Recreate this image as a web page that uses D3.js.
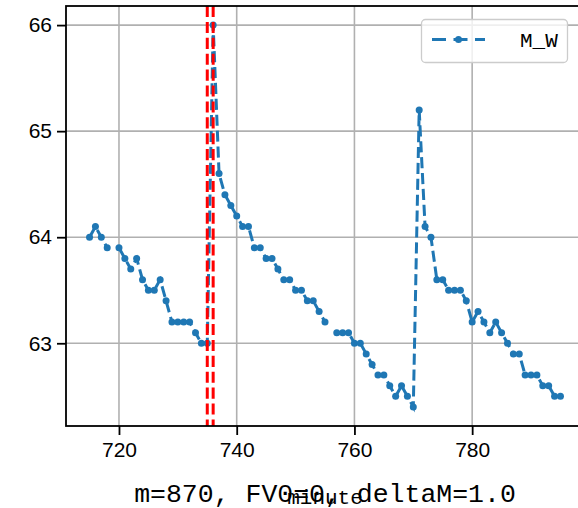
<!DOCTYPE html>
<html>
<head>
<meta charset="utf-8">
<script src="https://cdn.jsdelivr.net/npm/d3@7"></script>
<style>
  html, body { margin: 0; padding: 0; background: #fff; }
  svg { display: block; }
</style>
</head>
<body>
<svg id="chart" width="578" height="508"></svg>
<script>
// ---- data ----
const minutes = d3.range(715, 796);
const mW = [
  64.0, 64.1, 64.0, 63.9, null, 63.9, 63.8, 63.7, 63.8, 63.6,   // 715-724
  63.5, 63.5, 63.6, 63.4, 63.2, 63.2, 63.2, 63.2, 63.1, 63.0,   // 725-734
  63.0, 66.0, 64.6, 64.4, 64.3, 64.2, 64.1, 64.1, 63.9, 63.9,   // 735-744
  63.8, 63.8, 63.7, 63.6, 63.6, 63.5, 63.5, 63.4, 63.4, 63.3,   // 745-754
  63.2, null, 63.1, 63.1, 63.1, 63.0, 63.0, 62.9, 62.8, 62.7,   // 755-764
  62.7, 62.6, 62.5, 62.6, 62.5, 62.4, 65.2, 64.1, 64.0, 63.6,   // 765-774
  63.6, 63.5, 63.5, 63.5, 63.4, 63.2, 63.3, 63.2, 63.1, 63.2,   // 775-784
  63.1, 63.0, 62.9, 62.9, 62.7, 62.7, 62.7, 62.6, 62.6, 62.5,   // 785-794
  62.5                                                          // 795
];
const markerLines = [735, 736];
const xTicks = [720, 740, 760, 780];
const yTicks = [63, 64, 65, 66];
const seriesName = "M_W";
const titleText = "m=870, FV0=0, deltaM=1.0";
const xLabel = "minute";

(function () {
// ---- layout ----
const svg = d3.select("#chart");
const pL = 66, pR = 584, pT = 6, pB = 426;
const blue = "#1f77b4";

const points = minutes.map((m, i) => ({ m, v: mW[i] }));
const valid = points.filter(p => p.v != null);
const xmin = d3.min(minutes), xmax = d3.max(minutes);
const vmin = d3.min(valid, d => d.v), vmax = d3.max(valid, d => d.v);
const xpad = (xmax - xmin) * 0.05, ypad = (vmax - vmin) * 0.05;

const x = d3.scaleLinear().domain([xmin - xpad, xmax + xpad]).range([pL, pR]);
const y = d3.scaleLinear().domain([vmin - ypad, vmax + ypad]).range([pB, pT]);

const tickFont = "'Liberation Sans', Arial, sans-serif";
const monoFont = "'Liberation Mono', 'DejaVu Sans Mono', monospace";

// grid
const grid = svg.append("g");
grid.selectAll("line.gx").data(xTicks).enter().append("line")
  .attr("x1", d => x(d)).attr("x2", d => x(d))
  .attr("y1", pT).attr("y2", pB)
  .attr("stroke", "#b0b0b0").attr("stroke-width", 1.6);
grid.selectAll("line.gy").data(yTicks).enter().append("line")
  .attr("x1", pL).attr("x2", pR)
  .attr("y1", d => y(d)).attr("y2", d => y(d))
  .attr("stroke", "#b0b0b0").attr("stroke-width", 1.6);

// series line
const line = d3.line()
  .defined(d => d.v != null)
  .x(d => x(d.m)).y(d => y(d.v));
svg.append("path")
  .datum(points)
  .attr("d", line)
  .attr("fill", "none")
  .attr("stroke", blue)
  .attr("stroke-width", 3)
  .attr("stroke-dasharray", "11.1,4.8");
svg.append("g").selectAll("circle").data(valid).enter().append("circle")
  .attr("cx", d => x(d.m)).attr("cy", d => y(d.v))
  .attr("r", 3.5).attr("fill", blue);

// red vertical lines
svg.append("g").selectAll("line").data(markerLines).enter().append("line")
  .attr("x1", d => x(d)).attr("x2", d => x(d))
  .attr("y1", pT).attr("y2", pB)
  .attr("stroke", "red").attr("stroke-width", 3)
  .attr("stroke-dasharray", "11.1,4.8");

// axes
const xAxis = d3.axisBottom(x).tickValues(xTicks).tickSize(9).tickPadding(7).tickFormat(d3.format("d"));
const yAxis = d3.axisLeft(y).tickValues(yTicks).tickSize(9).tickPadding(5).tickFormat(d3.format("d"));
const gx = svg.append("g").attr("transform", `translate(0,${pB})`).call(xAxis);
const gy = svg.append("g").attr("transform", `translate(${pL},0)`).call(yAxis);
[gx, gy].forEach(g => {
  g.select(".domain").remove();
  g.selectAll(".tick line").attr("stroke", "#000").attr("stroke-width", 1.8);
  g.selectAll(".tick text").attr("fill", "#000")
    .style("font-family", tickFont).style("font-size", "21px");
});

// spines
svg.append("rect")
  .attr("x", pL).attr("y", pT)
  .attr("width", pR - pL).attr("height", pB - pT)
  .attr("fill", "none").attr("stroke", "#000").attr("stroke-width", 1.8);

// legend
const lg = svg.append("g");
lg.append("rect")
  .attr("x", 421.5).attr("y", 19.5).attr("width", 146).attr("height", 43)
  .attr("rx", 4).attr("fill", "#fff").attr("fill-opacity", 0.8)
  .attr("stroke", "#cccccc").attr("stroke-width", 1.3);
lg.append("line")
  .attr("x1", 432).attr("x2", 485).attr("y1", 39.5).attr("y2", 39.5)
  .attr("stroke", blue).attr("stroke-width", 3)
  .attr("stroke-dasharray", "14,7.5");
lg.append("circle").attr("cx", 458.5).attr("cy", 39.5).attr("r", 3.5).attr("fill", blue);
lg.append("text")
  .attr("x", 520).attr("y", 47)
  .style("font-family", monoFont).style("font-size", "21px")
  .attr("fill", "#000")
  .text(seriesName);

// x label and title (overlapping, as in the reference)
const cx = (pL + pR) / 2;
svg.append("text")
  .attr("x", cx).attr("y", 503.5)
  .attr("text-anchor", "middle")
  .style("font-family", monoFont).style("font-size", "21px")
  .attr("fill", "#000")
  .text(xLabel);
svg.append("text")
  .attr("x", cx).attr("y", 502)
  .attr("text-anchor", "middle")
  .style("font-family", monoFont).style("font-size", "26.5px")
  .attr("fill", "#000")
  .text(titleText);
})();
</script>
</body>
</html>
